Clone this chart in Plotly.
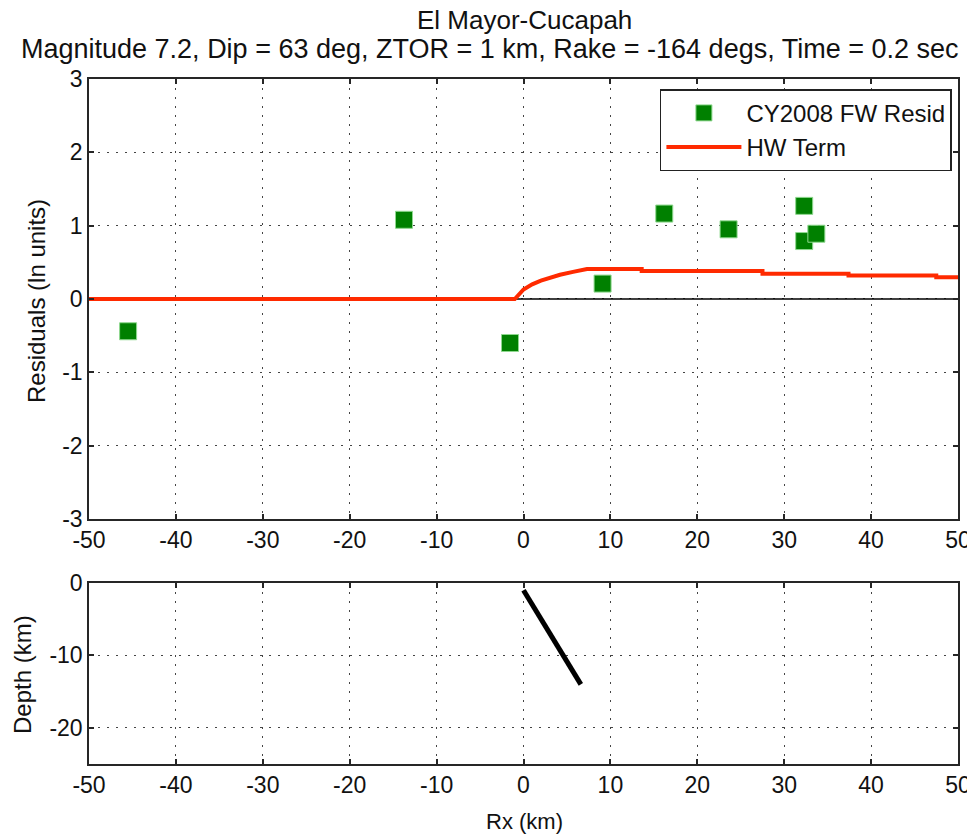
import plotly.graph_objects as go
from plotly.subplots import make_subplots

# CY2008 footwall residuals
resid_rx = [-45.5, -13.75, -1.55, 9.1, 16.2, 23.6, 32.3, 32.3, 33.7]
resid_val = [-0.44, 1.08, -0.60, 0.21, 1.165, 0.95, 1.27, 0.79, 0.89]

# hanging-wall term
hw_rx = [-50, -1.0, 0.0, 1.0, 2.0, 3.0, 4.2, 5.7, 7.3, 13.6, 13.6, 27.5, 27.5,
         37.4, 37.4, 47.5, 47.5, 50]
hw_val = [0, 0, 0.13, 0.2, 0.25, 0.29, 0.33, 0.37, 0.41, 0.41, 0.38, 0.38, 0.345,
          0.345, 0.32, 0.32, 0.295, 0.295]

# fault trace in cross-section
fault_rx = [0.0, 6.6]
fault_depth = [-1.0, -14.0]

x_ticks = [-50, -40, -30, -20, -10, 0, 10, 20, 30, 40, 50]
resid_ticks = [-3, -2, -1, 0, 1, 2, 3]
depth_ticks = [-20, -10, 0]

FONT = "Liberation Sans, Arial, sans-serif"
AX = "#262626"
TXT = "#111111"

# the page body adds an 8px offset, so the figure is drawn 8px smaller
fig = make_subplots(rows=2, cols=1, shared_xaxes=False)

fig.add_trace(go.Scatter(
    x=[-50, 50], y=[0, 0], mode="lines",
    line=dict(color="black", width=1.5), showlegend=False, hoverinfo="skip",
), row=1, col=1)

fig.add_trace(go.Scatter(
    x=resid_rx, y=resid_val, mode="markers", name="CY2008 FW Resid",
    marker=dict(symbol="square", size=17, color="#008000",
                line=dict(color="#8fd88f", width=1)),
), row=1, col=1)

fig.add_trace(go.Scatter(
    x=hw_rx, y=hw_val, mode="lines", name="HW Term",
    line=dict(color="#ff2a00", width=4),
), row=1, col=1)

fig.add_trace(go.Scatter(
    x=fault_rx, y=fault_depth, mode="lines",
    line=dict(color="black", width=5), showlegend=False,
), row=2, col=1)

axis_common = dict(
    showline=True, linecolor=AX, linewidth=1.5, mirror="ticks",
    ticks="inside", ticklen=5, tickcolor=AX, tickwidth=1.5,
    showgrid=True, gridcolor="#444444", griddash="2px,7px", gridwidth=1,
    zeroline=False, automargin=False,
    tickfont=dict(family=FONT, size=23, color=TXT),
)

fig.update_xaxes(range=[-50, 50], tickvals=x_ticks,
                 ticktext=[str(v) for v in x_ticks], **axis_common)
fig.update_yaxes(**axis_common)
fig.update_yaxes(range=[-3, 3], tickvals=resid_ticks,
                 ticktext=[str(v) for v in resid_ticks], row=1, col=1)
fig.update_yaxes(range=[-25, 0], tickvals=depth_ticks,
                 ticktext=[str(v) for v in depth_ticks], row=2, col=1)

fig.update_layout(
    width=967, height=828,
    margin=dict(l=81, r=17, t=71, b=72),
    plot_bgcolor="#ffffff", paper_bgcolor="#ffffff",
    font=dict(family=FONT, size=22, color=TXT),
    xaxis=dict(domain=[0, 1]),
    xaxis2=dict(domain=[0, 1]),
    yaxis=dict(domain=[0.3577, 1]),
    yaxis2=dict(domain=[0, 0.2642]),
    legend=dict(
        x=0.993, y=0.985, xanchor="right", yanchor="top",
        bgcolor="#ffffff", bordercolor="#222222", borderwidth=1.5,
        font=dict(family=FONT, size=24, color=TXT),
        itemwidth=75, tracegroupgap=0,
    ),
)


def px_y(py):
    return (764 - py) / 685


def px_x(px):
    return (px - 89) / 869


def label(text, x, y, size, angle=0, xanchor="center"):
    fig.add_annotation(
        text=text, xref="paper", yref="paper", x=px_x(x), y=px_y(y),
        xanchor=xanchor, yanchor="middle", textangle=angle, showarrow=False,
        borderpad=0, font=dict(family=FONT, size=size, color=TXT),
    )


label("El Mayor-Cucapah", 524, 20, 26)
label("Magnitude 7.2, Dip = 63 deg, ZTOR = 1 km, Rake = -164 degs, Time = 0.2 sec",
      20, 49, 27, xanchor="left")
label("Residuals (ln units)", 36, 301, 24, angle=-90)
label("Depth (km)", 22, 675, 24, angle=-90)
label("Rx (km)", 524, 821, 22)

fig.write_html("out.html")
